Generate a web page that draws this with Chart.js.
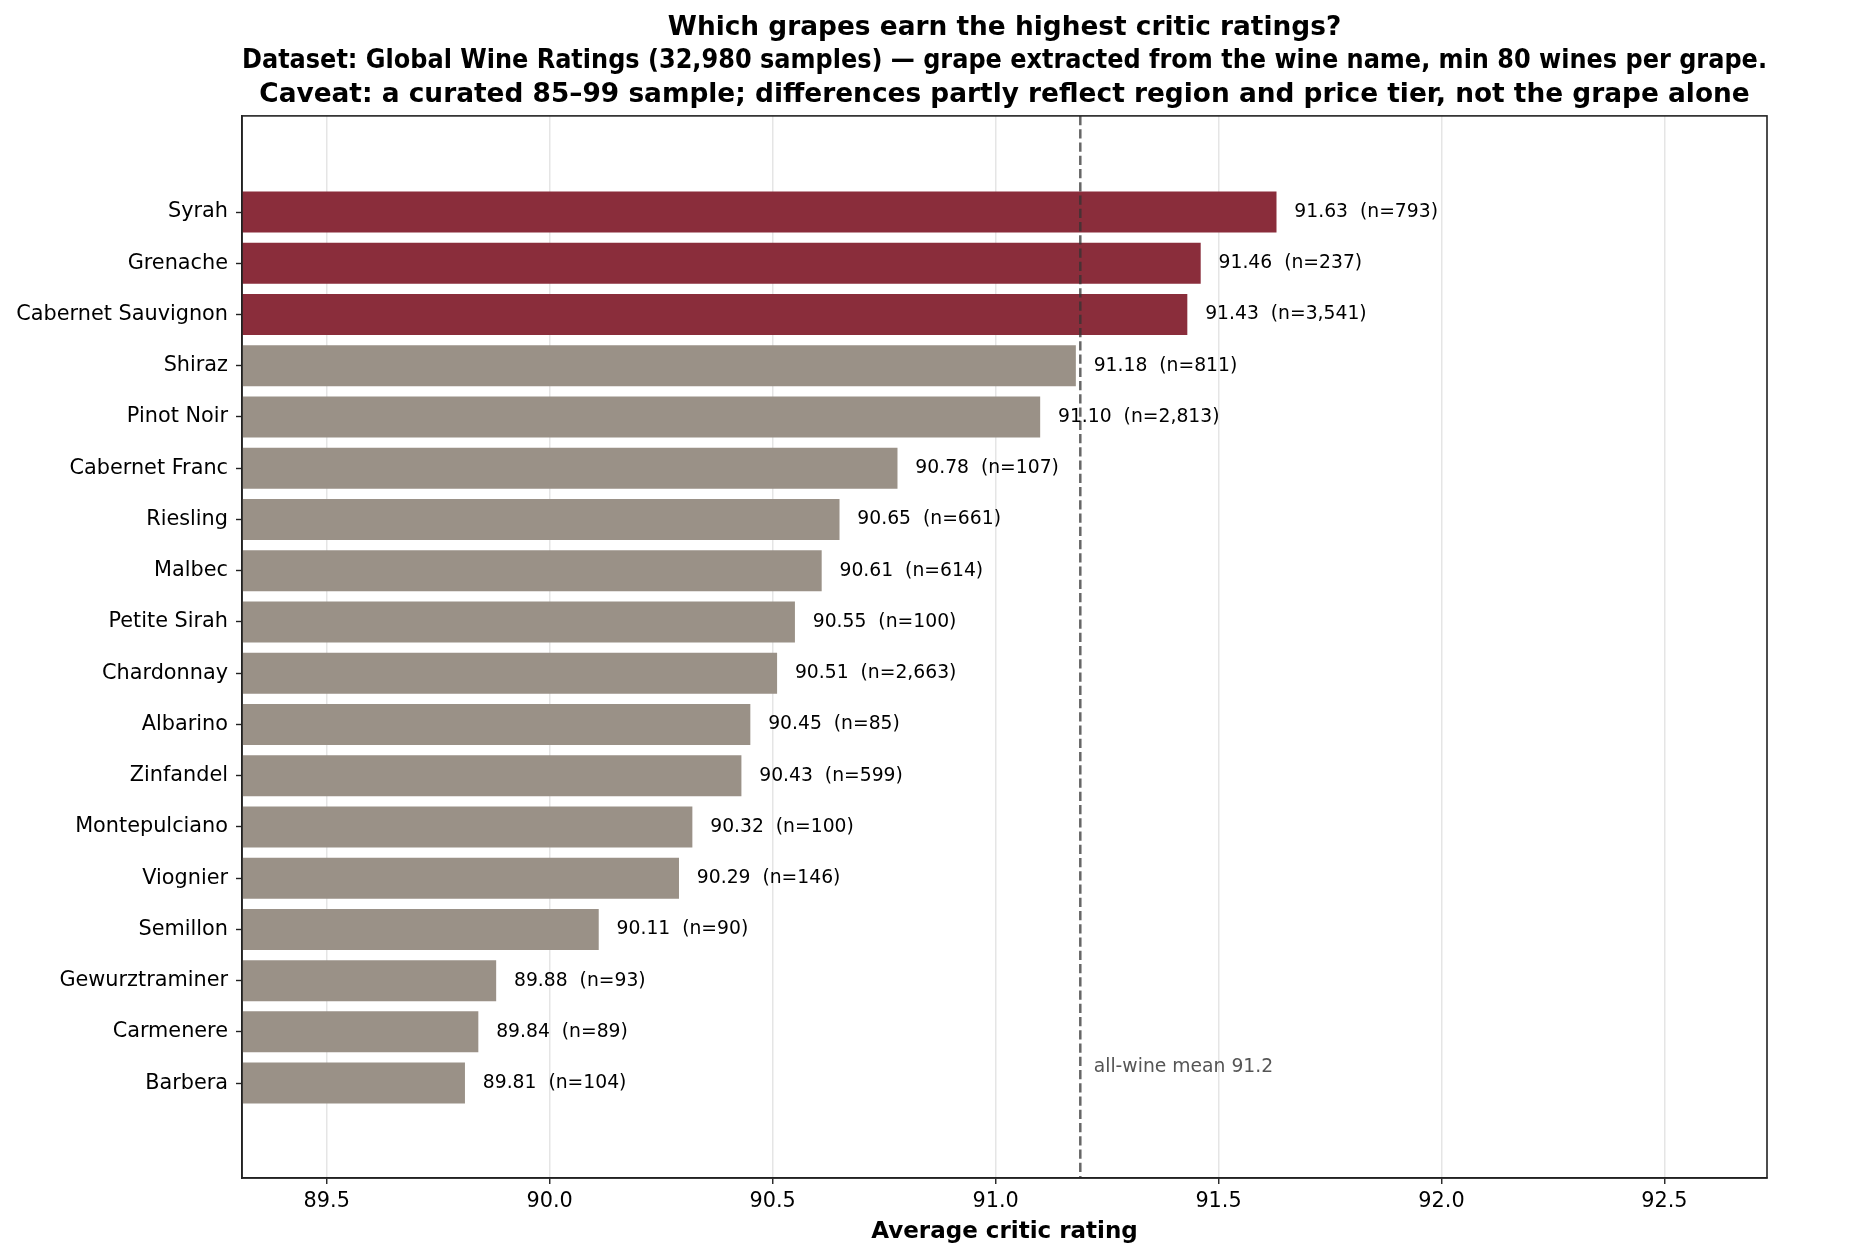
<!DOCTYPE html>
<html lang="en">
<head>
    <meta charset="UTF-8">
    <title>Which grapes earn the highest critic ratings?</title>
    <script src="https://cdn.jsdelivr.net/npm/chart.js@4.4.1/dist/chart.umd.min.js"></script>
    <style>
        html, body { margin: 0; padding: 0; background: #fff; }
        #wrap { width: 1867px; height: 1260px; }
    </style>
</head>
<body>
    <div id="wrap"><canvas id="grapeChart" width="1867" height="1260"></canvas></div>

    <script>
        // Data (sorted, best first)
        const grapes = ['Syrah', 'Grenache', 'Cabernet Sauvignon', 'Shiraz', 'Pinot Noir', 'Cabernet Franc',
            'Riesling', 'Malbec', 'Petite Sirah', 'Chardonnay', 'Albarino', 'Zinfandel', 'Montepulciano',
            'Viognier', 'Semillon', 'Gewurztraminer', 'Carmenere', 'Barbera'];
        const avgRating = [91.63, 91.46, 91.43, 91.18, 91.10, 90.78, 90.65, 90.61, 90.55, 90.51,
            90.45, 90.43, 90.32, 90.29, 90.11, 89.88, 89.84, 89.81];
        const wineCount = [793, 237, 3541, 811, 2813, 107, 661, 614, 100, 2663, 85, 599, 100, 146, 90, 93, 89, 104];
        const topGrapes = ['Syrah', 'Grenache', 'Cabernet Sauvignon'];
        const meanRating = 91.19;
        const xTicks = [89.5, 90.0, 90.5, 91.0, 91.5, 92.0, 92.5];

        const FONT = "'DejaVu Sans', 'Liberation Sans', sans-serif";
        const WINE = '#8a2d3b';
        const STONE = '#9a9187';

        // value labels, mean line and the top/right frame
        const extras = {
            id: 'extras',
            afterDatasetsDraw(chart) {
                const { ctx, chartArea: a, scales: { x, y } } = chart;
                ctx.save();

                // dashed mean line
                const mx = x.getPixelForValue(meanRating);
                ctx.strokeStyle = 'rgba(51,51,51,0.75)';
                ctx.lineWidth = 2.5;
                ctx.setLineDash([9.25, 4]);
                ctx.beginPath();
                ctx.moveTo(mx, a.top);
                ctx.lineTo(mx, a.bottom);
                ctx.stroke();
                ctx.setLineDash([]);

                ctx.fillStyle = '#555';
                ctx.font = '18.75px ' + FONT;
                ctx.textAlign = 'left';
                ctx.textBaseline = 'middle';
                ctx.fillText('all-wine mean ' + meanRating.toFixed(1), x.getPixelForValue(meanRating + 0.03), y.getPixelForValue(16.69));

                // bar value labels
                ctx.fillStyle = '#000';
                avgRating.forEach((v, i) => {
                    const txt = v.toFixed(2) + '  (n=' + wineCount[i].toLocaleString('en-US') + ')';
                    ctx.fillText(txt, x.getPixelForValue(v + 0.04), y.getPixelForValue(i));
                });

                // frame
                ctx.strokeStyle = '#222';
                ctx.lineWidth = 1.6;
                ctx.strokeRect(a.left, a.top, a.right - a.left, a.bottom - a.top);
                ctx.restore();
            }
        };

        new Chart(document.getElementById('grapeChart'), {
            type: 'bar',
            data: {
                datasets: [{
                    data: avgRating.map((v, i) => ({ x: v, y: i })),
                    backgroundColor: grapes.map(g => topGrapes.includes(g) ? WINE : STONE),
                    borderWidth: 0,
                    categoryPercentage: 1,
                    barPercentage: 0.8
                }]
            },
            options: {
                indexAxis: 'y',
                responsive: false,
                devicePixelRatio: 1,
                animation: false,
                layout: { padding: { left: 0, right: 100, top: 0, bottom: 0 } },
                plugins: {
                    legend: { display: false },
                    tooltip: { enabled: false },
                    title: {
                        display: true,
                        fullSize: false,
                        text: [
                            'Which grapes earn the highest critic ratings?',
                            'Dataset: Global Wine Ratings (32,980 samples) \u2014 grape extracted from the wine name, min 80 wines per grape.',
                            'Caveat: a curated 85\u201399 sample; differences partly reflect region and price tier, not the grape alone'
                        ],
                        color: '#000',
                        font: { family: FONT, size: 26.4, weight: 'bold', lineHeight: 1.26 },
                        padding: { top: 11.5, bottom: 4.6 }
                    }
                },
                scales: {
                    x: {
                        type: 'linear',
                        min: 89.31,
                        max: 92.73,
                        z: 1,
                        afterBuildTicks: axis => { axis.ticks = xTicks.map(v => ({ value: v })); },
                        afterFit: axis => { axis.height = 82; },
                        ticks: {
                            color: '#000',
                            font: { family: FONT, size: 20.8 },
                            padding: 5,
                            maxRotation: 0,
                            callback: v => Number(v).toFixed(1)
                        },
                        grid: {
                            color: 'rgba(150,150,150,0.25)',
                            lineWidth: 1.5,
                            drawTicks: true,
                            tickLength: 6,
                            tickColor: '#222',
                            tickWidth: 1.4
                        },
                        border: { display: true, color: '#222', width: 1.6 },
                        title: {
                            display: true,
                            text: 'Average critic rating',
                            color: '#000',
                            font: { family: FONT, size: 23, weight: 'bold', lineHeight: 1.2 },
                            padding: { top: 0, bottom: 14 }
                        }
                    },
                    y: {
                        type: 'linear',
                        reverse: true,
                        min: -1.3,
                        max: 18.276,
                        afterBuildTicks: axis => { axis.ticks = grapes.map((g, i) => ({ value: i })); },
                        afterFit: axis => { axis.width = 242; },
                        ticks: {
                            color: '#000',
                            font: { family: FONT, size: 20.8 },
                            padding: 8,
                            autoSkip: false,
                            callback: v => grapes[v]
                        },
                        grid: {
                            offset: false,
                            drawOnChartArea: false,
                            drawTicks: true,
                            tickLength: 6,
                            tickColor: '#222',
                            tickWidth: 1.4
                        },
                        border: { display: true, color: '#222', width: 1.6 }
                    }
                }
            },
            plugins: [extras]
        });
    </script>
</body>
</html>
